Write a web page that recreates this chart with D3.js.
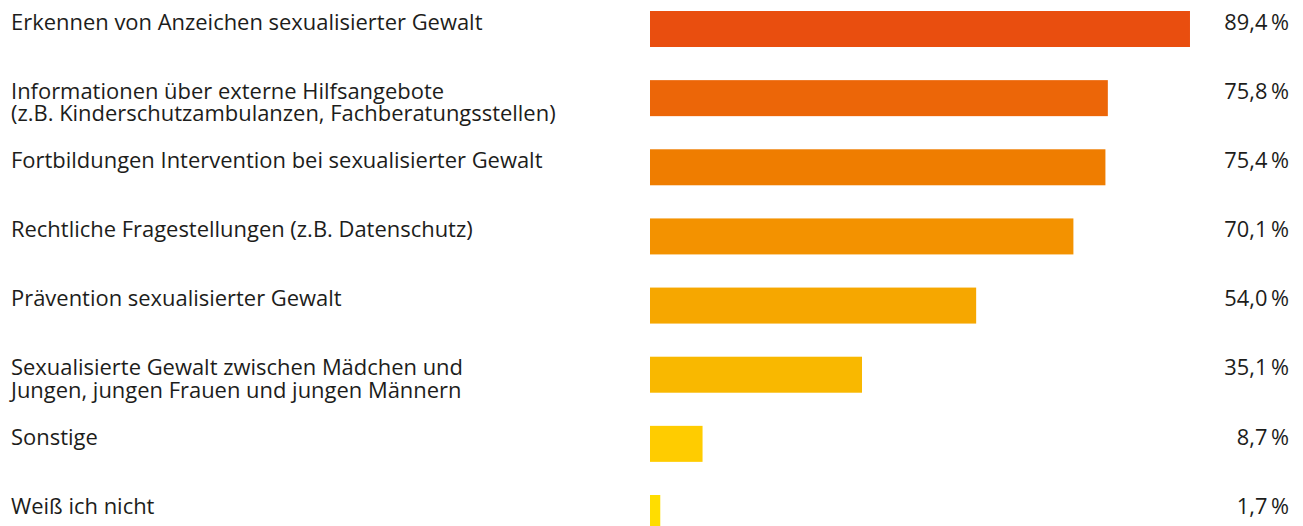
<!DOCTYPE html>
<html lang="de">
<head>
<meta charset="utf-8">
<script src="https://cdn.jsdelivr.net/npm/d3@7"></script>
<style>
  html, body { margin: 0; padding: 0; background: #fff; }
  svg { display: block; }
  text { font-family: "Open Sans", sans-serif; font-size: 21.8px; fill: #1d1d1b; }
  text.label { font-size: 21.95px; }
</style>
</head>
<body>
<svg id="chart" width="1303" height="526"></svg>
<script>
// Categories (line breaks marked with "\n") and their shares in percent
const categories = [
  "Erkennen von Anzeichen sexualisierter Gewalt",
  "Informationen über externe Hilfsangebote\n(z.B. Kinderschutzambulanzen, Fachberatungsstellen)",
  "Fortbildungen Intervention bei sexualisierter Gewalt",
  "Rechtliche Fragestellungen (z.B. Datenschutz)",
  "Prävention sexualisierter Gewalt",
  "Sexualisierte Gewalt zwischen Mädchen und\nJungen, jungen Frauen und jungen Männern",
  "Sonstige",
  "Weiß ich nicht"
];
const values = [89.4, 75.8, 75.4, 70.1, 54.0, 35.1, 8.7, 1.7];
const barColors = ["#e94e0f", "#ec6608", "#ef7d00", "#f39200", "#f6a700", "#f9b800", "#ffcc00", "#ffdd00"];

const svg = d3.select("#chart");
const fmt = v => v.toFixed(1).replace(".", ",") + "\u2009%";

const x = d3.scaleLinear().domain([0, 100]).range([650, 1254]);
const y = d3.scalePoint().domain(d3.range(categories.length)).range([11, 495]);
const barH = 36;
const baseline = 18.7;
const lineGap = 22.5;

const rows = svg.selectAll("g.row")
  .data(categories.map((c, i) => ({ label: c, value: values[i], color: barColors[i], i })))
  .join("g")
  .attr("class", "row");

rows.append("rect")
  .attr("x", x(0))
  .attr("y", d => y(d.i))
  .attr("width", d => x(d.value) - x(0))
  .attr("height", barH)
  .attr("fill", d => d.color);

// each label line is its own text element
rows.each(function (d) {
  d3.select(this).selectAll("text.label")
    .data(d.label.split("\n"))
    .join("text")
    .attr("class", "label")
    .attr("x", 11)
    .attr("y", (line, k) => y(d.i) + baseline + k * lineGap)
    .text(line => line);
});

rows.append("text")
  .attr("x", 1289)
  .attr("y", d => y(d.i) + baseline)
  .attr("text-anchor", "end")
  .text(d => fmt(d.value));
</script>
</body>
</html>
